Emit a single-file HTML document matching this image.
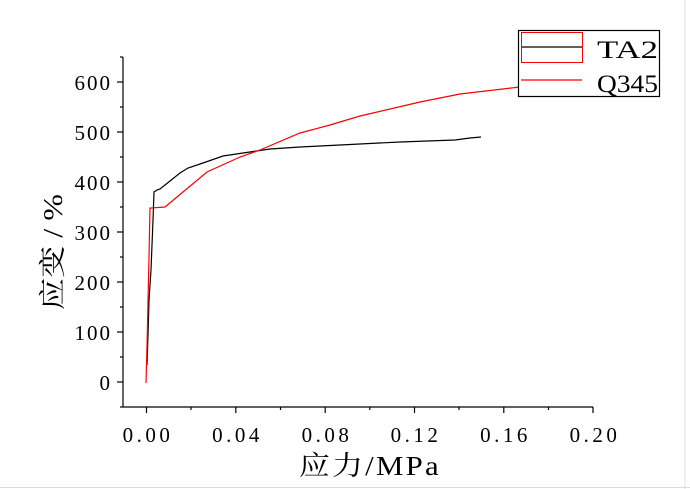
<!DOCTYPE html>
<html><head><meta charset="utf-8"><style>
html,body{margin:0;padding:0;background:#fff;}
svg{display:block;}
text{font-family:"Liberation Serif","Noto Serif CJK SC",serif;fill:#000;}
</style></head><body>
<svg width="690" height="489" viewBox="0 0 690 489">
<rect width="690" height="489" fill="#fff"/>
<line x1="685" y1="0" x2="685" y2="489" stroke="#ddd" stroke-width="1"/>
<line x1="0" y1="487.5" x2="690" y2="487.5" stroke="#ddd" stroke-width="1"/>
<g stroke="#000" stroke-width="1.2" fill="none">
<line x1="123" y1="57" x2="123" y2="407"/>
<line x1="123" y1="407" x2="593" y2="407"/>
<line x1="117" y1="382" x2="123" y2="382"/>
<line x1="117" y1="332" x2="123" y2="332"/>
<line x1="117" y1="282" x2="123" y2="282"/>
<line x1="117" y1="232" x2="123" y2="232"/>
<line x1="117" y1="182" x2="123" y2="182"/>
<line x1="117" y1="132" x2="123" y2="132"/>
<line x1="117" y1="82" x2="123" y2="82"/>
<line x1="120" y1="407" x2="123" y2="407"/>
<line x1="120" y1="357" x2="123" y2="357"/>
<line x1="120" y1="307" x2="123" y2="307"/>
<line x1="120" y1="257" x2="123" y2="257"/>
<line x1="120" y1="207" x2="123" y2="207"/>
<line x1="120" y1="157" x2="123" y2="157"/>
<line x1="120" y1="107" x2="123" y2="107"/>
<line x1="120" y1="57" x2="123" y2="57"/>
<line x1="146.5" y1="407" x2="146.5" y2="413"/>
<line x1="235.8" y1="407" x2="235.8" y2="413"/>
<line x1="325.2" y1="407" x2="325.2" y2="413"/>
<line x1="414.5" y1="407" x2="414.5" y2="413"/>
<line x1="503.8" y1="407" x2="503.8" y2="413"/>
<line x1="593" y1="407" x2="593" y2="413"/>
<line x1="191" y1="407" x2="191" y2="410"/>
<line x1="280.5" y1="407" x2="280.5" y2="410"/>
<line x1="369.8" y1="407" x2="369.8" y2="410"/>
<line x1="459" y1="407" x2="459" y2="410"/>
<line x1="548.5" y1="407" x2="548.5" y2="410"/>
</g>
<g font-size="21" text-anchor="end" letter-spacing="2">
<text x="112" y="390">0</text>
<text x="112" y="340">100</text>
<text x="112" y="290">200</text>
<text x="112" y="240">300</text>
<text x="112" y="190">400</text>
<text x="112" y="140">500</text>
<text x="112" y="90">600</text>
</g>
<g font-size="21" text-anchor="middle" letter-spacing="3.5">
<text x="148" y="442">0.00</text>
<text x="237.5" y="442">0.04</text>
<text x="327" y="442">0.08</text>
<text x="416" y="442">0.12</text>
<text x="505.5" y="442">0.16</text>
<text x="595" y="442">0.20</text>
</g>
<text x="370" y="475" font-size="27" text-anchor="middle" letter-spacing="2" textLength="142" lengthAdjust="spacingAndGlyphs">应力/MPa</text>
<text transform="translate(62,252) rotate(-90)" font-size="27" text-anchor="middle" textLength="116" lengthAdjust="spacingAndGlyphs">应变 / %</text>
<polyline fill="none" stroke="#000" stroke-width="1.2" points="147,365 148,335 149,300 151,270 152,245 153,220 154,192 157,190 160,189 165,185 170,181 180,173 188,168 203,163 223,156 243,153 270,149 300,147 340,145 400,142 455,140 470,138 481,137"/>
<polyline fill="none" stroke="#f00" stroke-width="1.2" points="146,383 147,347 148,302 149,257 150,208 165,207 183,192 207,172 240,157 260,150 300,133 330,125 360,116 420,102 460,94 520,87 560,83"/>
<rect x="518.5" y="30.5" width="141" height="66" fill="#fff" stroke="#000" stroke-width="1.2"/>
<rect x="521.5" y="32.5" width="61" height="30" fill="none" stroke="#f00" stroke-width="1"/>
<line x1="522" y1="47" x2="582" y2="47" stroke="#000" stroke-width="1.2"/>
<line x1="521" y1="80" x2="582" y2="80" stroke="#f00" stroke-width="1.2"/>
<text x="597" y="58" font-size="25" textLength="61" lengthAdjust="spacingAndGlyphs">TA2</text>
<text x="597" y="92" font-size="25" textLength="61" lengthAdjust="spacingAndGlyphs">Q345</text>
</svg>
</body></html>
